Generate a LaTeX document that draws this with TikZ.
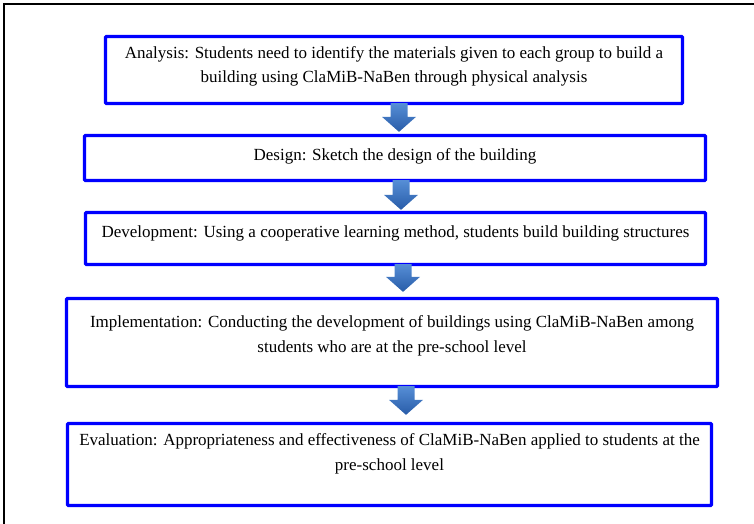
\documentclass[tikz,border=0pt]{standalone}
\usepackage{fontspec}
\setmainfont{Liberation Serif}
\usetikzlibrary{calc}
\definecolor{arrowtop}{RGB}{86,142,214}
\definecolor{arrowbot}{RGB}{40,92,168}
\tikzstyle{stepbox}=[draw=blue, line width=3.3pt, rounded corners=1pt, inner sep=0pt]
\tikzstyle{steptext}=[align=center, inner sep=0pt, anchor=base, font=\fontsize{17}{24.5}\selectfont]
\tikzstyle{blockarrow}=[top color=arrowtop, bottom color=arrowbot, draw=none]
\newcommand{\flowarrow}[4]{%
\path[blockarrow] let \p1=(#3,0 |- #1.south), \p2=(#3,0 |- #2.north) in
 (\x1-8.5pt,\y1+2pt) -- (\x1+8.5pt,\y1+2pt) -- (\x1+8.5pt,\y2+#4+15pt) -- (\x1+17pt,\y2+#4+15pt)
 -- (\x1,\y2+#4) -- (\x1-17pt,\y2+#4+15pt) -- (\x1-8.5pt,\y2+#4+15pt) -- cycle;}
\begin{document}
\begin{tikzpicture}[x=1pt,y=-1pt]
\useasboundingbox (0,0) rectangle (754,524);
\draw [black, line width=1.2pt] (754,4) -- (4,4) -- (4,524);
\node [stepbox, minimum width=577, minimum height=67] (analysis) at (394,70) {};
\node [stepbox, minimum width=621, minimum height=45] (design) at (395,158) {};
\node [stepbox, minimum width=620, minimum height=52] (develop) at (395.5,238.5) {};
\node [stepbox, minimum width=651, minimum height=88] (implement) at (392,342.5) {};
\node [stepbox, minimum width=644, minimum height=82] (evaluate) at (389.5,464.5) {};
\node [steptext] (analysis-t) at (394,83) {Analysis: Students need to identify the materials given to each group to build a\\building using ClaMiB-NaBen through physical analysis};
\node [steptext] (design-t) at (395,160) {Design: Sketch the design of the building};
\node [steptext] (develop-t) at (395.5,237) {Development: Using a cooperative learning method, students build building structures};
\node [steptext] (implement-t) at (392,352) {Implementation: Conducting the development of buildings using ClaMiB-NaBen among\\students who are at the pre-school level};
\node [steptext] (evaluate-t) at (389.5,470) {Evaluation: Appropriateness and effectiveness of ClaMiB-NaBen applied to students at the\\pre-school level};
\flowarrow{analysis}{design}{399}{2pt}
\flowarrow{design}{develop}{401}{1pt}
\flowarrow{develop}{implement}{403}{5pt}
\flowarrow{implement}{evaluate}{406}{7pt}
\end{tikzpicture}
\end{document}
